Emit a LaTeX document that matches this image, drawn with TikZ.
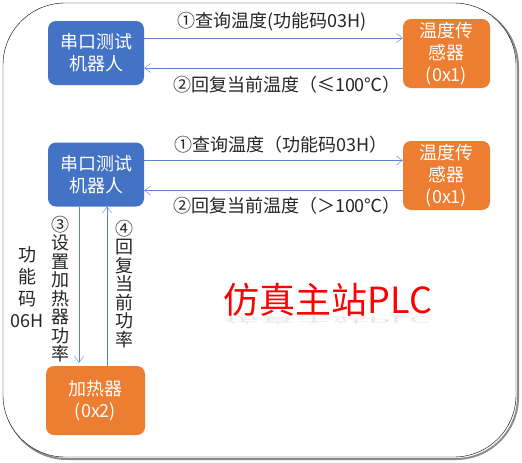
\documentclass[tikz,border=0pt]{standalone}
\usepackage{fontspec}
\setmainfont{Noto Sans CJK SC}
\usetikzlibrary{arrows.meta}
\definecolor{boxblue}{HTML}{4472C4}
\definecolor{boxorange}{HTML}{ED7D31}
\definecolor{linkblue}{HTML}{5A85CC}
\tikzset{box/.style = {rounded corners=8, text=white, align=center, inner sep=0,
                       font=\fontsize{18}{22}\selectfont}}
\tikzset{robot/.style = {box, fill=boxblue, minimum width=96, minimum height=64}}
\tikzset{dev/.style = {box, fill=boxorange, minimum width=87, minimum height=69}}
\tikzset{link/.style = {draw=linkblue, -{Straight Barb[length=6pt,width=9pt]}}}
\tikzset{msg/.style = {text=black!85, font=\fontsize{18}{22}\selectfont, inner sep=0}}
\tikzset{vmsg/.style = {msg, align=center, font=\fontsize{18}{18.5}\selectfont}}

\begin{document}
\begin{tikzpicture}[x=1pt, y=-1pt]
      \useasboundingbox (0,0) rectangle (522,463);
      % Draw frame
      \draw[black!45, line width=2, rounded corners=62] (5,5) rectangle (518,459);
      \draw[fill=white, rounded corners=62] (3,3) rectangle (516,457);

      % Upper case: temperature up to 100
      \node[robot] (robot1) at (96,53) {串口测试\\机器人};
      \node[dev] (sensor1) at (446.5,53.5) {温度传\\感器\\(0x1)};
      \draw[link] ([yshift=15]robot1.east) -- ([yshift=15]robot1.east -| sensor1.west);
      \draw[link] ([yshift=-15]robot1.east -| sensor1.west) -- ([yshift=-15]robot1.east);
      \node[msg] (ask1) at (272,22) {①查询温度(功能码03H)};
      \node[msg] (ans1) at (287,85) {②回复当前温度（≤100℃）};

      % Lower case: temperature over 100
      \node[robot] (robot2) at (96,174.5) {串口测试\\机器人};
      \node[dev] (sensor2) at (446.5,175.5) {温度传\\感器\\(0x1)};
      \node[dev, minimum width=99] (heater) at (95.5,400.5) {加热器\\(0x2)};
      \draw[link] ([yshift=14]robot2.east) -- ([yshift=14]robot2.east -| sensor2.west);
      \draw[link] ([yshift=-16]robot2.east -| sensor2.west) -- ([yshift=-16]robot2.east);
      \node[msg] (ask2) at (281,145) {①查询温度（功能码03H）};
      \node[msg] (ans2) at (287,206) {②回复当前温度（＞100℃）};
      \draw[link, shorten >=3] ([xshift=-17]robot2.south) -- ([xshift=-17]robot2.south |- heater.north);
      \draw[link] ([xshift=11]robot2.south |- heater.north) -- ([xshift=11]robot2.south);
      \node[vmsg] (set) at (60,289) {③\\设\\置\\加\\热\\器\\功\\率};
      \node[vmsg] (back) at (124,284) {④\\回\\复\\当\\前\\功\\率};
      \node[msg, align=center] (code) at (27,287) {功\\能\\码\\06H};

      % Title
      \node[text=black!25, opacity=0.35, font=\fontsize{36}{40}\selectfont, yscale=-0.25,
            transform shape] (shade) at (328,320) {仿真主站PLC};
      \node[text=red, font=\fontsize{36}{40}\selectfont] (title) at (328,300) {仿真主站PLC};
\end{tikzpicture}
\end{document}
